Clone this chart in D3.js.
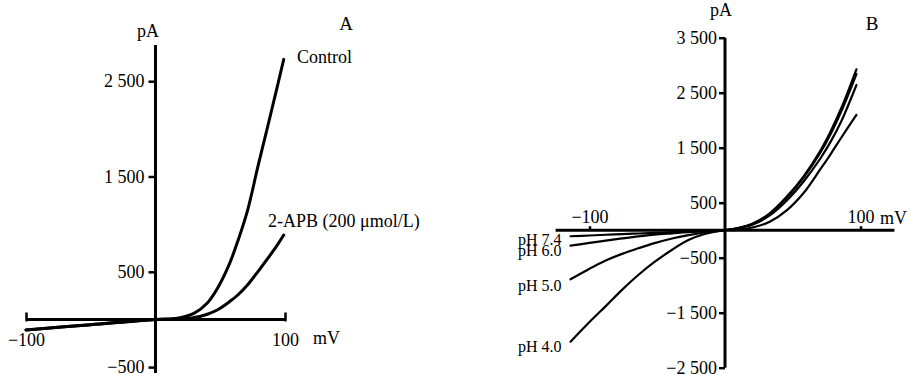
<!DOCTYPE html>
<html>
<head>
<meta charset="utf-8">
<script src="https://cdn.jsdelivr.net/npm/d3@7"></script>
<style>
    body { margin: 0; background: #fff; }
    svg { display: block; }
    text { font-family: "Liberation Serif", "Times New Roman", serif; fill: #000; }
    .axis path.domain { display: none; }
    .axis line { stroke: #000; stroke-width: 2.5; }
    .axis text { font-size: 18px; }
    .curve { fill: none; stroke: #000; stroke-linejoin: round; stroke-linecap: round; }
</style>
</head>
<body>
<script>
//panel A data (voltage in mV, current in pA)
var voltA = [-100, -50, 0, 17, 30, 40, 48, 57, 64, 71, 79, 86, 94, 99];
var controlA = [-110, -55, 0, 12, 66, 172, 330, 580, 840, 1140, 1600, 1990, 2440, 2729];
var apbA = [-110, -55, 0, 5, 20, 55, 102, 185, 262, 362, 500, 627, 780, 886];
var ticksYA = [-500, 500, 1500, 2500];
var ticksXA = [-100, 100];

//panel B data
var voltB = [-114, -100, -88, -76, -64, -52, -39, -27, -15, 0, 9, 21, 33, 46, 58, 70, 78, 86, 97];
var ph74 = [-110, -96, -83, -72, -60, -48, -36, -25, -13, 0, 35, 125, 307, 620, 980, 1430, 1800, 2230, 2925];
var ph60 = [-280, -232, -190, -150, -112, -80, -56, -35, -18, 0, 33, 120, 295, 600, 955, 1395, 1750, 2170, 2840];
var ph50 = [-893, -700, -550, -430, -329, -235, -150, -90, -42, 0, 28, 108, 268, 550, 885, 1290, 1610, 1990, 2640];
var ph40 = [-2027, -1670, -1380, -1085, -815, -578, -355, -180, -70, 0, 5, 53, 155, 370, 675, 1095, 1385, 1690, 2095];
var phNames = ["pH 7.4", "pH 6.0", "pH 5.0", "pH 4.0"];
var ticksYB = [-2500, -1500, -500, 500, 1500, 2500, 3500];
var ticksXB = [-100, 100];

var w = 911, h = 375;

var svg = d3.select("body")
    .append("svg")
    .attr("width", w)
    .attr("height", h);

//number format with a space as thousands separator
var fmt = d3.formatLocale({
    decimal: ".",
    thousands: " ",
    grouping: [3],
    currency: ["", ""],
    minus: "\u2212"
}).format(",");

//================ panel A ================
var xA = d3.scaleLinear().domain([-100, 100]).range([26, 285]);
var yA = d3.scaleLinear().domain([-500, 2500]).range([367.1, 81.2]);

var gA = svg.append("g");

//y axis
gA.append("line")
    .attr("x1", xA(0)).attr("x2", xA(0))
    .attr("y1", yA(2880)).attr("y2", 373)
    .style("stroke", "#000").style("stroke-width", 3);

gA.append("g")
    .attr("class", "axis")
    .attr("transform", "translate(" + xA(0) + ",0)")
    .call(d3.axisLeft(yA).tickValues(ticksYA).tickSize(7).tickPadding(4).tickFormat(fmt));

//x axis
gA.append("line")
    .attr("x1", xA(-100)).attr("x2", xA(100))
    .attr("y1", yA(0)).attr("y2", yA(0))
    .style("stroke", "#000").style("stroke-width", 3);

var xAxisA = gA.append("g")
    .attr("class", "axis")
    .attr("transform", "translate(0," + yA(0) + ")")
    .call(d3.axisBottom(xA).tickValues(ticksXA).tickSize(-7).tickPadding(14).tickFormat(fmt));

xAxisA.selectAll("line").attr("y1", 2);

//curves
var lineA = d3.line()
    .x(function(d){ return xA(d[0]); })
    .y(function(d){ return yA(d[1]); })
    .curve(d3.curveCatmullRom);

gA.append("path")
    .datum(d3.zip(voltA, controlA))
    .attr("class", "curve")
    .style("stroke-width", 3)
    .attr("d", lineA);

gA.append("path")
    .datum(d3.zip(voltA, apbA))
    .attr("class", "curve")
    .style("stroke-width", 3)
    .attr("d", lineA);

//labels
gA.append("text").attr("x", 148).attr("y", 37).attr("text-anchor", "middle").style("font-size", "18px").text("pA");
gA.append("text").attr("x", 346).attr("y", 30).attr("text-anchor", "middle").style("font-size", "19px").text("A");
gA.append("text").attr("x", 297).attr("y", 63).style("font-size", "18px").text("Control");
gA.append("text").attr("x", 268).attr("y", 227).style("font-size", "18px").text("2-APB (200 \u03bcmol/L)");
gA.append("text").attr("x", 313).attr("y", 344).style("font-size", "18px").text("mV");

//================ panel B ================
var xB = d3.scaleLinear().domain([-100, 100]).range([589.5, 860.5]);
var yB = d3.scaleLinear().domain([-2500, 3500]).range([367.7, 37.7]);

var gB = svg.append("g");

//y axis
gB.append("line")
    .attr("x1", xB(0)).attr("x2", xB(0))
    .attr("y1", yB(3500)).attr("y2", yB(-2500))
    .style("stroke", "#000").style("stroke-width", 3);

gB.append("g")
    .attr("class", "axis")
    .attr("transform", "translate(" + xB(0) + ",0)")
    .call(d3.axisLeft(yB).tickValues(ticksYB).tickSize(6).tickPadding(2).tickFormat(fmt));

//x axis
gB.append("line")
    .attr("x1", xB(-125)).attr("x2", xB(125))
    .attr("y1", yB(0)).attr("y2", yB(0))
    .style("stroke", "#000").style("stroke-width", 3);

gB.append("g")
    .attr("class", "axis")
    .attr("transform", "translate(0," + yB(0) + ")")
    .call(d3.axisTop(xB).tickValues(ticksXB).tickSize(4).tickPadding(3).tickFormat(fmt));

//curves
var lineB = d3.line()
    .x(function(d){ return xB(d[0]); })
    .y(function(d){ return yB(d[1]); })
    .curve(d3.curveCatmullRom);

var seriesB = [ph74, ph60, ph50, ph40];

gB.selectAll(".curveB")
    .data(seriesB)
    .enter()
    .append("path")
    .attr("class", "curve curveB")
    .style("stroke-width", 2.2)
    .attr("d", function(d){ return lineB(d3.zip(voltB, d)); });

//pH labels
var phLabelY = [245, 256, 291, 352];
gB.selectAll(".phLabel")
    .data(phNames)
    .enter()
    .append("text")
    .attr("class", "phLabel")
    .attr("x", 518)
    .attr("y", function(d, i){ return phLabelY[i]; })
    .style("font-size", "16px")
    .text(function(d){ return d; });

gB.append("text").attr("x", 721).attr("y", 16).attr("text-anchor", "middle").style("font-size", "18px").text("pA");
gB.append("text").attr("x", 872).attr("y", 30).attr("text-anchor", "middle").style("font-size", "19px").text("B");
gB.append("text").attr("x", 880).attr("y", 224).style("font-size", "18px").text("mV");
</script>
</body>
</html>
